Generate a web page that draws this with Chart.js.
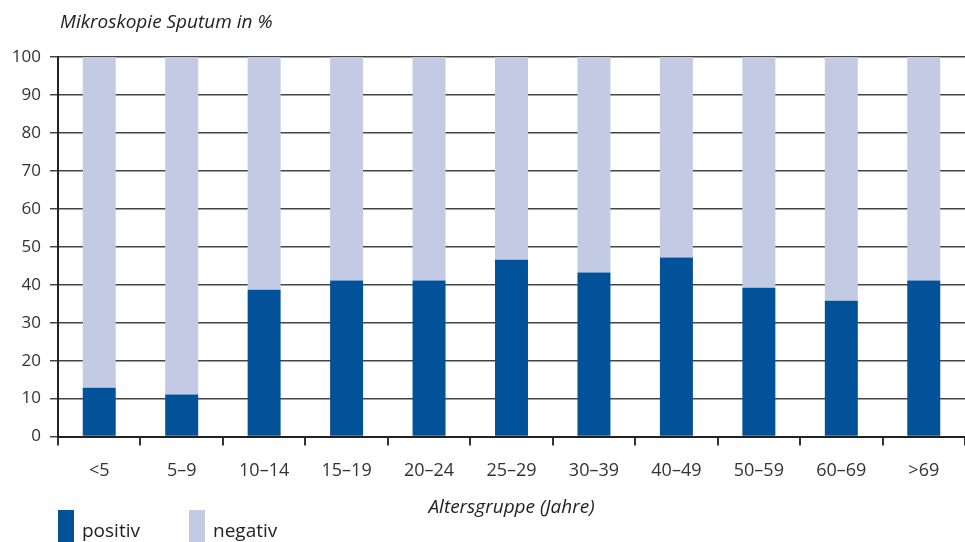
<!DOCTYPE html>
<html lang="de">
<head>
<meta charset="utf-8">
<title>Mikroskopie Sputum</title>
<script src="https://cdn.jsdelivr.net/npm/chart.js@4.4.0/dist/chart.umd.min.js"></script>
<style>
  html, body { margin: 0; padding: 0; background: #fff; overflow: hidden; }
  #wrap { position: relative; width: 965px; height: 542px; }
  #heading {
    position: absolute; left: 60px; top: 8px;
    font: italic 19px "Open Sans", sans-serif; color: #222;
  }
  #legend { position: absolute; left: 58px; top: 510px; width: 400px; height: 40px; }
  .leg-item { position: absolute; top: 0; height: 40px; }
  .leg-box { position: absolute; left: 0; top: 0; width: 16px; height: 32px; }
  .leg-text {
    position: absolute; left: 24px; top: 8px; white-space: nowrap;
    font: 19px/24px "Open Sans", sans-serif; color: #222;
  }
</style>
</head>
<body>
<div id="wrap">
  <canvas id="sputumChart" width="965" height="542"></canvas>
  <div id="heading">Mikroskopie Sputum in %</div>
  <div id="legend"></div>
</div>
<script>
// Altersgruppen und Anteile (in %)
const altersgruppen = ["<5", "5–9", "10–14", "15–19", "20–24", "25–29", "30–39", "40–49", "50–59", "60–69", ">69"];
const positiv = [12.9, 11.1, 38.7, 41.1, 41.1, 46.6, 43.2, 47.2, 39.2, 35.8, 41.1];
const negativ = [87.1, 88.9, 61.3, 58.9, 58.9, 53.4, 56.8, 52.8, 60.8, 64.2, 58.9];
const Y_MAX = 100;
const Y_STEP = 10;

const BLAU = "#02529a";
const HELLBLAU = "#c3cbe4";

document.addEventListener("DOMContentLoaded", function () {
  const ctx = document.getElementById("sputumChart").getContext("2d");

  const chart = new Chart(ctx, {
    type: "bar",
    data: {
      labels: altersgruppen,
      datasets: [
        {
          label: "positiv",
          data: positiv,
          backgroundColor: BLAU,
          borderWidth: 0,
          categoryPercentage: 1,
          barPercentage: 0.4,
        },
        {
          label: "negativ",
          data: negativ,
          backgroundColor: HELLBLAU,
          borderWidth: 0,
          categoryPercentage: 1,
          barPercentage: 0.4,
        },
      ],
    },
    options: {
      responsive: false,
      animation: false,
      layout: { padding: { top: 57, right: 0, bottom: 23, left: 0 } },
      plugins: {
        legend: { display: false },
        tooltip: { enabled: false },
      },
      scales: {
        x: {
          stacked: true,
          grid: {
            offset: true,
            drawOnChartArea: false,
            drawTicks: true,
            tickLength: 9,
            color: "#333",
            lineWidth: 2,
          },
          border: { color: "#222", width: 2 },
          ticks: {
            padding: 14,
            color: "#333",
            font: { family: "Open Sans", size: 18 },
            maxRotation: 0,
          },
          title: {
            display: true,
            text: "Altersgruppe (Jahre)",
            color: "#222",
            font: { family: "Open Sans", size: 19, style: "italic" },
            padding: { top: 1, bottom: 0 },
          },
        },
        y: {
          stacked: true,
          min: 0,
          max: Y_MAX,
          ticks: {
            stepSize: Y_STEP,
            padding: 9,
            color: "#333",
            font: { family: "Open Sans", size: 17 },
          },
          grid: {
            color: "#444",
            lineWidth: 1.5,
            tickLength: 8,
          },
          border: { color: "#222", width: 2 },
          afterFit: function (scale) {
            scale.width = 58;
          },
        },
      },
    },
  });

  // Legende aus den Datensätzen
  const legend = document.getElementById("legend");
  const offsets = [0, 131];
  chart.data.datasets.forEach(function (ds, i) {
    const item = document.createElement("div");
    item.className = "leg-item";
    item.style.left = offsets[i] + "px";
    const box = document.createElement("span");
    box.className = "leg-box";
    box.style.background = ds.backgroundColor;
    const text = document.createElement("span");
    text.className = "leg-text";
    text.textContent = ds.label;
    item.appendChild(box);
    item.appendChild(text);
    legend.appendChild(item);
  });
});
</script>
</body>
</html>
